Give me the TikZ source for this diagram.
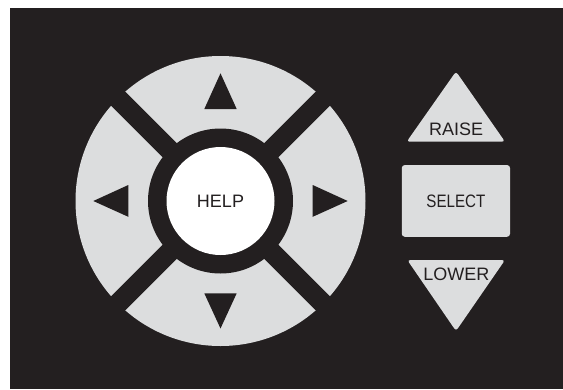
\documentclass[tikz,border=0pt]{standalone}
\usepackage{fontspec}
\usepackage{graphicx}
\setmainfont{Liberation Sans}
\definecolor{panel}{HTML}{231F20}
\definecolor{key}{HTML}{DCDDDE}
\begin{document}
\begin{tikzpicture}[x=1pt,y=-1pt,
  lbl/.style={text=panel, font=\fontsize{18}{20}\selectfont, inner sep=0pt},
  arrowtri/.style={fill=panel},
  keytri/.style={fill=key, rounded corners=3pt}]
\useasboundingbox (0,0) rectangle (563,389);
\fill[white] (0,0) rectangle (563,389);
\fill[panel] (10,7.5) rectangle (563,389);
% D-pad
\coordinate (c) at (220.5,201);
\fill[key] (c) circle[radius=145pt];
\fill[panel] (c) circle[radius=72.5pt];
\begin{scope}[shift={(c)}]
  \fill[panel, rotate=45] (-160,-10) rectangle (160,10);
  \fill[panel, rotate=-45] (-160,-10) rectangle (160,10);
\end{scope}
\node[circle, fill=white, minimum size=108pt, inner sep=0pt, lbl] (help) at (c) {HELP};
% direction arrows
\fill[arrowtri] (220.5,73.3) -- (204.3,109) -- (236.7,109) -- cycle;
\fill[arrowtri] (220.5,328.5) -- (204.3,293.3) -- (236.7,293.3) -- cycle;
\fill[arrowtri] (93.3,201) -- (128.3,185) -- (128.3,216.8) -- cycle;
\fill[arrowtri] (347.7,201) -- (312.7,185) -- (312.7,216.8) -- cycle;
% RAISE
\fill[keytri] (456,71.5) -- (505,141.7) -- (406.7,141.7) -- cycle;
\node[lbl, anchor=base] (raise) at (456.2,135) {RAISE};
% SELECT
\node[fill=key, rounded corners=3pt, minimum width=108.3pt, minimum height=71.7pt, inner sep=0pt, lbl] (select) at (455.9,200.9) {\scalebox{0.84}[1]{SELECT}};
% LOWER
\fill[keytri] (407.3,260) -- (505,260) -- (456,331) -- cycle;
\node[lbl, anchor=base] (lower) at (456.3,280.7) {LOWER};
\end{tikzpicture}
\end{document}
